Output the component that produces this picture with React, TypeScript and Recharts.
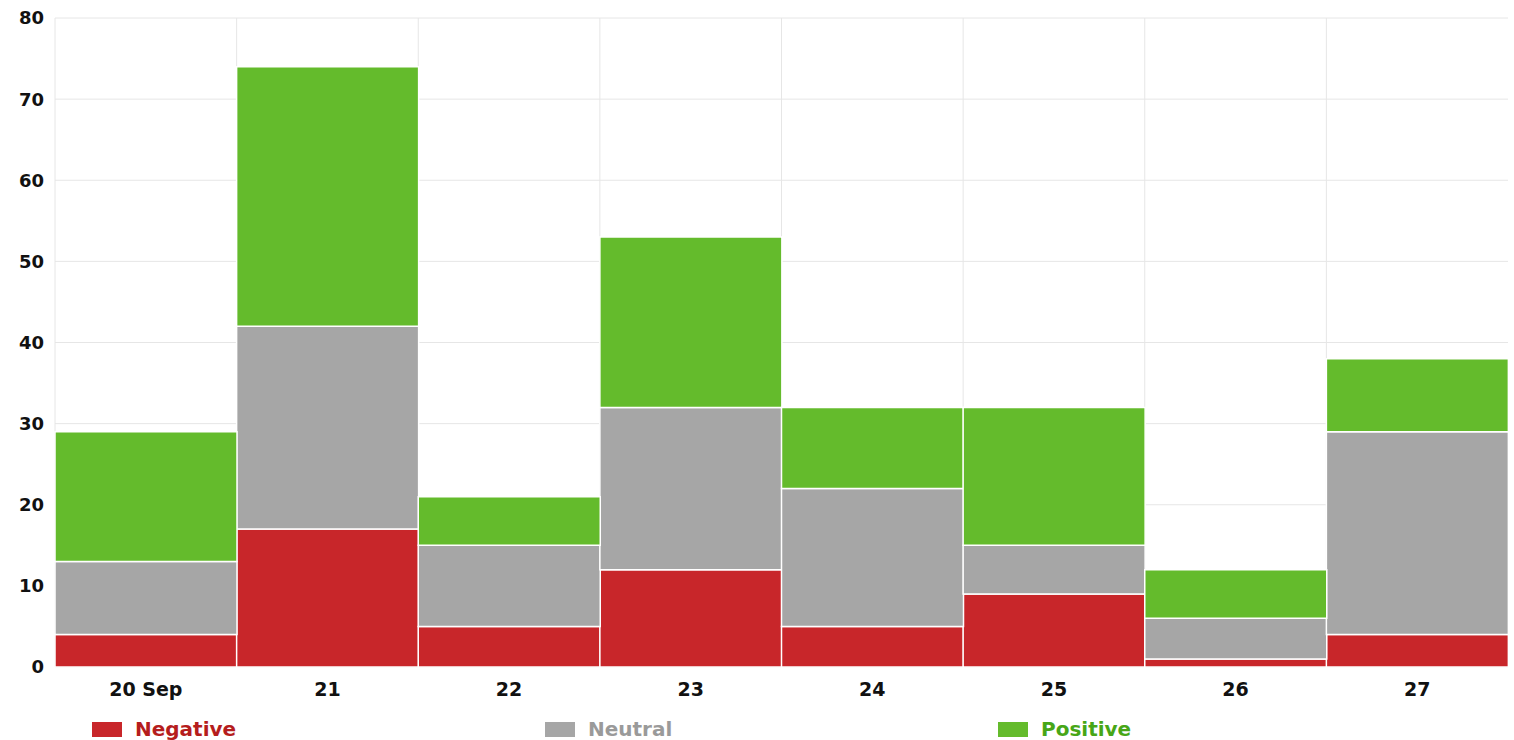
import { BarChart, Bar, XAxis, YAxis, CartesianGrid, Legend } from 'recharts';

const days = ['20 Sep', '21', '22', '23', '24', '25', '26', '27'];
const negative = [4, 17, 5, 12, 5, 9, 1, 4];
const neutral = [9, 25, 10, 20, 17, 6, 5, 25];
const positive = [16, 32, 6, 21, 10, 17, 6, 9];
const yTicks = [0, 10, 20, 30, 40, 50, 60, 70, 80];

const series = [
  { key: 'negative', name: 'Negative', fill: '#c8262a', text: '#b51d1d' },
  { key: 'neutral', name: 'Neutral', fill: '#a6a6a6', text: '#9a9a9a' },
  { key: 'positive', name: 'Positive', fill: '#64bb2c', text: '#47a617' },
];

const data = days.map((day, i) => ({
  day,
  negative: negative[i],
  neutral: neutral[i],
  positive: positive[i],
}));

const font = '"DejaVu Sans", Verdana, sans-serif';

const LegendBox = () => (
  <div style={{ display: 'flex', paddingLeft: 92, paddingTop: 10, fontFamily: font }}>
    {series.map((s) => (
      <div key={s.key} style={{ width: 453, display: 'flex', alignItems: 'center' }}>
        <span style={{ width: 30, height: 15, background: s.fill, display: 'inline-block', marginRight: 13 }} />
        <span style={{ color: s.text, fontWeight: 'bold', fontSize: 20 }}>{s.name}</span>
      </div>
    ))}
  </div>
);

export default function App() {
  return (
    <div style={{ position: 'absolute', left: 0, top: 0, background: '#fff' }}>
      <BarChart
        width={1514}
        height={740}
        data={data}
        margin={{ top: 18, right: 6, bottom: 0, left: 0 }}
        barCategoryGap={0}
        barGap={0}
      >
        <CartesianGrid
          stroke="#e6e6e6"
          verticalCoordinatesGenerator={({ offset }: any) =>
            days.map((_, i) => offset.left + (i * offset.width) / days.length)
          }
        />
        <XAxis
          dataKey="day"
          height={40}
          tickLine={false}
          axisLine={false}
          tickSize={0}
          tickMargin={16}
          tick={{ fill: '#111', fontSize: 19, fontWeight: 'bold', fontFamily: font }}
        />
        <YAxis
          width={55}
          domain={[0, 80]}
          ticks={yTicks}
          interval={0}
          tickLine={false}
          axisLine={false}
          tickSize={0}
          tickMargin={11}
          tick={{ fill: '#111', fontSize: 18, fontWeight: 'bold', fontFamily: font }}
        />
        <Legend verticalAlign="bottom" height={33} content={<LegendBox />} />
        {series.map((s) => (
          <Bar
            key={s.key}
            dataKey={s.key}
            name={s.name}
            stackId="a"
            fill={s.fill}
            stroke="#ffffff"
            strokeWidth={1.5}
            isAnimationActive={false}
          />
        ))}
      </BarChart>
    </div>
  );
}
